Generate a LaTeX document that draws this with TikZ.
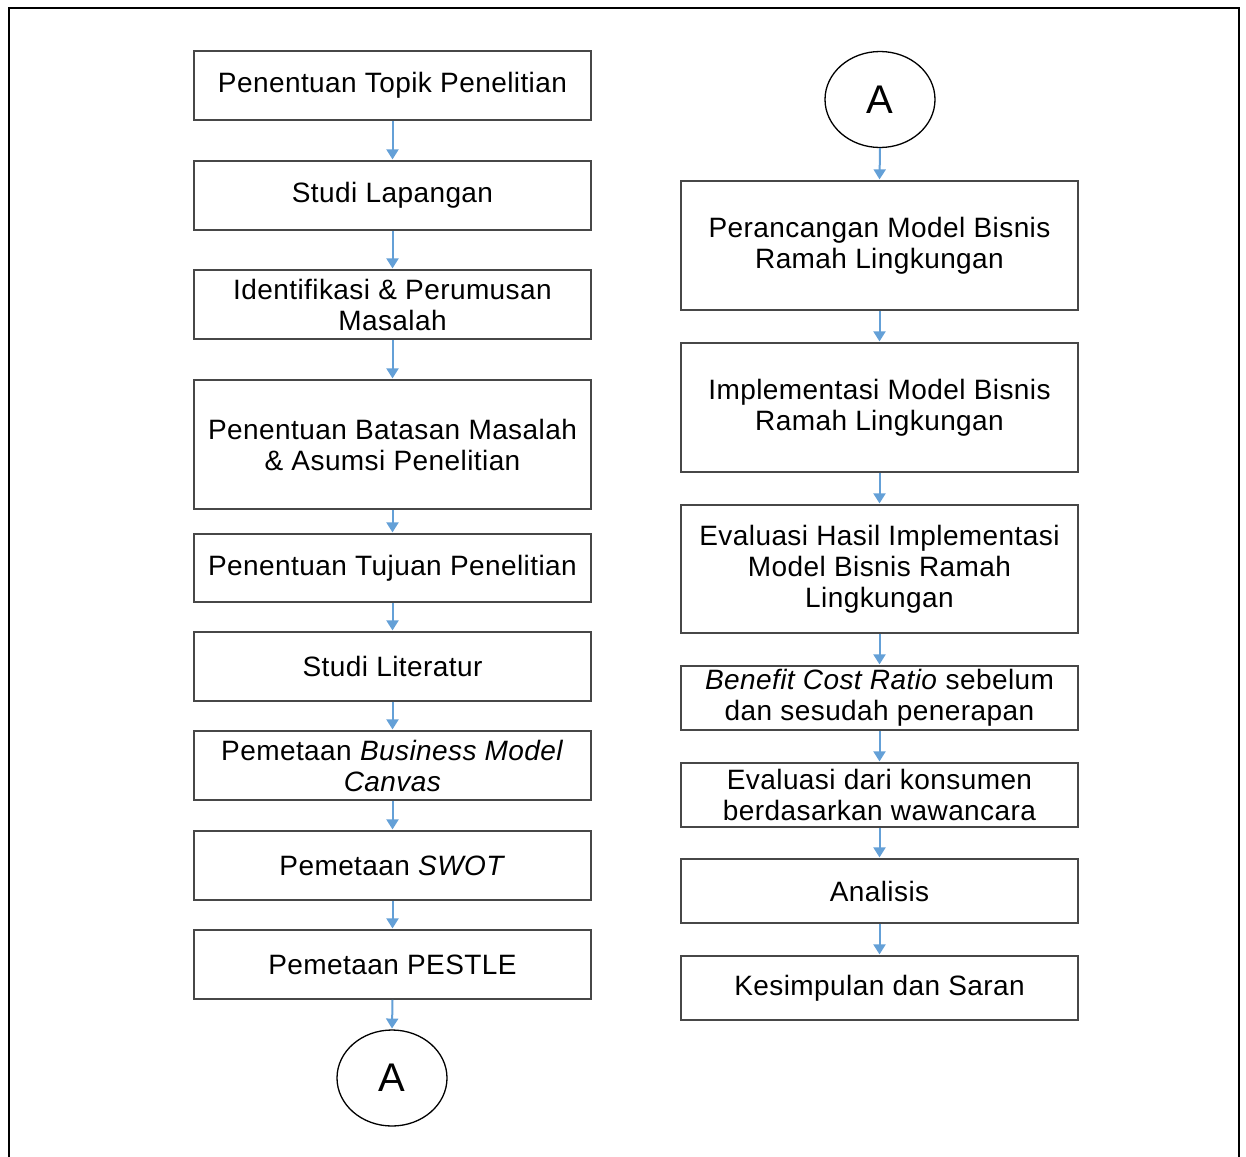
\documentclass[tikz,border=0pt]{standalone}
\usepackage{fontspec}
\setmainfont[LetterSpace=1.5]{Liberation Sans}
\usetikzlibrary{arrows.meta,shapes.geometric}
\begin{document}
\begin{tikzpicture}[x=1pt,y=-1pt,
  box/.style={draw=black!72,line width=1.6pt,fill=white,minimum width=397pt,inner sep=0pt,align=center,font=\fontsize{28}{31}\selectfont},
  conn/.style={ellipse,draw=black,line width=1.3pt,minimum width=110pt,minimum height=96pt,inner sep=0pt,font=\fontsize{40}{44}\selectfont},
  flow/.style={draw={rgb,255:red,100;green,160;blue,215},line width=2pt,-{Triangle[length=10pt,width=12pt]},shorten >=0.8pt}]
\useasboundingbox (0,0) rectangle (1246,1156);
\draw[line width=2pt,black] (9,1160) -- (9,8) -- (1239,8) -- (1239,1160);
% left column
\node[box,minimum height=69pt] (l1) at (392.5,85.5) {Penentuan Topik Penelitian};
\node[box,minimum height=69pt] (l2) at (392.5,195.5) {Studi Lapangan};
\node[box,minimum height=69pt] (l3) at (392.5,304.5) {Identifikasi \& Perumusan\\Masalah};
\node[box,minimum height=129pt] (l4) at (392.5,444.5) {Penentuan Batasan Masalah\\\& Asumsi Penelitian};
\node[box,minimum height=68pt] (l5) at (392.5,568) {Penentuan Tujuan Penelitian};
\node[box,minimum height=69pt] (l6) at (392.5,666.5) {Studi Literatur};
\node[box,minimum height=69pt] (l7) at (392.5,765.5) {Pemetaan \textit{Business Model}\\\textit{Canvas}};
\node[box,minimum height=69pt] (l8) at (392.5,865.5) {Pemetaan \textit{SWOT}};
\node[box,minimum height=69pt] (l9) at (392.5,964.5) {Pemetaan PESTLE};
\node[conn] (a1) at (392,1078) {A};
% right column
\node[conn] (a2) at (880,99.5) {A};
\node[box,minimum height=129pt] (r1) at (879.5,245.5) {Perancangan Model Bisnis\\Ramah Lingkungan};
\node[box,minimum height=129pt] (r2) at (879.5,407.5) {Implementasi Model Bisnis\\Ramah Lingkungan};
\node[box,minimum height=128pt] (r3) at (879.5,569) {Evaluasi Hasil Implementasi\\Model Bisnis Ramah\\Lingkungan};
\node[box,minimum height=64pt] (r4) at (879.5,698) {\textit{Benefit Cost Ratio} sebelum\\dan sesudah penerapan};
\node[box,minimum height=64pt] (r5) at (879.5,795) {Evaluasi dari konsumen\\berdasarkan wawancara};
\node[box,minimum height=64pt] (r6) at (879.5,891) {Analisis};
\node[box,minimum height=64pt] (r7) at (879.5,988) {Kesimpulan dan Saran};
% connectors
\foreach \a/\b in {l1/l2,l2/l3,l3/l4,l4/l5,l5/l6,l6/l7,l7/l8,l8/l9,l9/a1,a2/r1,r1/r2,r2/r3,r3/r4,r4/r5,r5/r6,r6/r7}
  \draw[flow] (\a.south) -- (\b.north);
\end{tikzpicture}
\end{document}
